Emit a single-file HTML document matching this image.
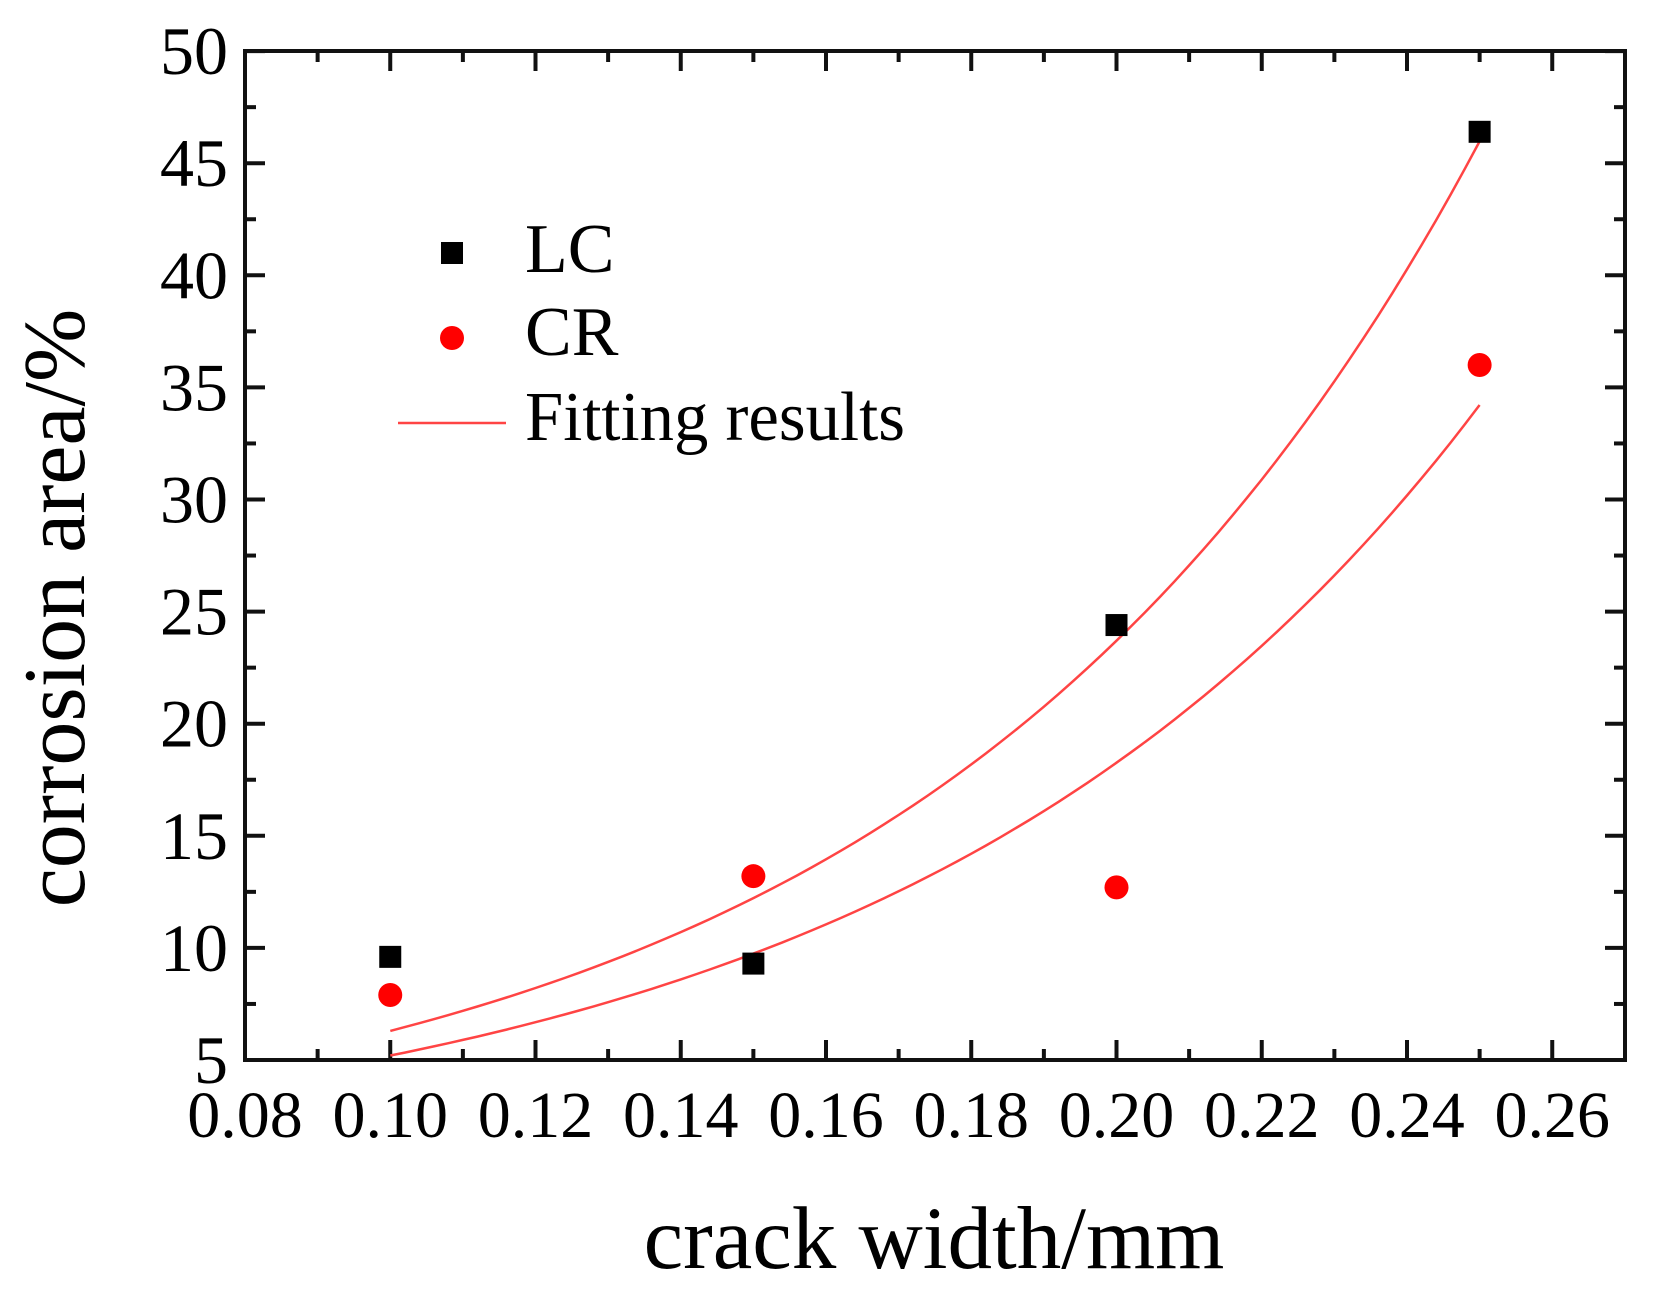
<!DOCTYPE html>
<html><head><meta charset="utf-8"><style>
html,body{margin:0;padding:0;background:#fff;}
svg{display:block;font-family:"Liberation Serif",serif;}
</style></head><body>
<svg id="s" width="1659" height="1299" xmlns="http://www.w3.org/2000/svg"></svg>
<script>
const s=document.getElementById('s');
const X=v=>245+(v-0.08)/0.02*145.25;
const Y=v=>1060-(v-5)/5*112.1;
let h='';
h+=`<rect x="245" y="51" width="1380" height="1009" fill="none" stroke="#111" stroke-width="4"/>`;
for(let i=0;i<=18;i++){const x=X(0.08+i*0.01);const L=i%2==0?20:11;
 h+=`<line x1="${x}" y1="1060" x2="${x}" y2="${1060-L}" stroke="#111" stroke-width="4"/>`;
 h+=`<line x1="${x}" y1="51" x2="${x}" y2="${51+L}" stroke="#111" stroke-width="4"/>`;
 if(i%2==0) h+=`<text x="${x}" y="1137" font-size="66" text-anchor="middle">${(0.08+i*0.01).toFixed(2)}</text>`;}
for(let i=0;i<=18;i++){const v=5+i*2.5;const y=Y(v);const L=i%2==0?20:11;
 h+=`<line x1="245" y1="${y}" x2="${245+L}" y2="${y}" stroke="#111" stroke-width="4"/>`;
 h+=`<line x1="1625" y1="${y}" x2="${1625-L}" y2="${y}" stroke="#111" stroke-width="4"/>`;
 if(i%2==0) h+=`<text x="228" y="${y+23}" font-size="68" text-anchor="end">${v}</text>`;}
function curve(a,b){let p='';for(let x=0.1;x<=0.2501;x+=0.002){p+=(p?'L':'M')+X(x).toFixed(1)+','+Y(a*Math.exp(b*x)).toFixed(1);}return `<path d="${p}" fill="none" stroke="#f44" stroke-width="2.5"/>`;}
h+=curve(6.3/Math.exp(1.325),13.25);
h+=curve(5.2/Math.exp(1.256),12.56);
[[0.10,9.6],[0.15,9.3],[0.20,24.4],[0.25,46.4]].forEach(([x,y])=>h+=`<rect x="${X(x)-11}" y="${Y(y)-11}" width="22" height="22" fill="#000"/>`);
[[0.10,7.9],[0.15,13.2],[0.20,12.7],[0.25,36]].forEach(([x,y])=>h+=`<circle cx="${X(x)}" cy="${Y(y)}" r="12" fill="#f00"/>`);
h+=`<rect x="441" y="242" width="22" height="22" fill="#000"/>`;
h+=`<text x="525" y="272" font-size="70">LC</text>`;
h+=`<circle cx="452" cy="338" r="12" fill="#f00"/>`;
h+=`<text x="525" y="355" font-size="70">CR</text>`;
h+=`<line x1="398" y1="423" x2="506" y2="423" stroke="#f44" stroke-width="2.5"/>`;
h+=`<text x="525" y="440" font-size="70" textLength="380" lengthAdjust="spacingAndGlyphs">Fitting results</text>`;
h+=`<text x="934" y="1268" font-size="89" text-anchor="middle">crack width/mm</text>`;
h+=`<text transform="translate(84,608) rotate(-90)" font-size="88" text-anchor="middle">corrosion area/%</text>`;
s.innerHTML=h;
</script>
</body></html>
